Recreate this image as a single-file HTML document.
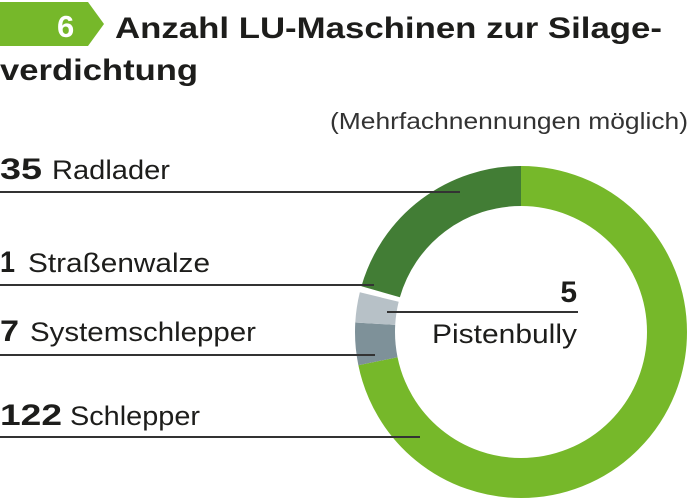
<!DOCTYPE html>
<html><head><meta charset="utf-8"><style>
html,body{margin:0;padding:0;background:#fff;}
svg{display:block;font-family:"Liberation Sans",sans-serif;}
</style></head><body>
<svg width="693" height="504" viewBox="0 0 693 504">
<polygon points="0,2 88,2 104,24 88,46 0,46" fill="#76b82a"/>
<text x="57" y="37" font-size="31" font-weight="bold" fill="#fff">6</text>
<text x="115" y="38" font-size="30" font-weight="bold" fill="#1d1d1b" textLength="547" lengthAdjust="spacingAndGlyphs">Anzahl LU-Maschinen zur Silage-</text>
<text x="0" y="80" font-size="30" font-weight="bold" fill="#1d1d1b" textLength="198" lengthAdjust="spacingAndGlyphs">verdichtung</text>
<text x="330" y="129" font-size="23" fill="#333" textLength="358" lengthAdjust="spacingAndGlyphs">(Mehrfachnennungen möglich)</text>
<g transform="rotate(-90 521 332)" fill="none" stroke-width="40">
<circle cx="521" cy="332" r="146" stroke="#76b82a" stroke-dasharray="658.3 1000"/>
<circle cx="521" cy="332" r="146" stroke="#7e9199" stroke-dasharray="0 658.3 37.8 1000"/>
<circle cx="521" cy="332" r="146" stroke="#b7c1c7" stroke-dasharray="0 696.1 27 1000"/>
<circle cx="521" cy="332" r="146" stroke="#427d35" stroke-dasharray="0 728.5 188.9 1000"/>
</g>
<g stroke="#333" stroke-width="2">
<line x1="0" y1="192" x2="460" y2="192"/>
<line x1="0" y1="285" x2="374" y2="285"/>
<line x1="0" y1="355" x2="375" y2="355"/>
<line x1="0" y1="437" x2="420" y2="437"/>
<line x1="387" y1="312" x2="578" y2="312"/>
</g>
<g font-size="27" fill="#1d1d1b">
<g font-weight="bold" font-size="30">
<text x="0" y="179" textLength="42" lengthAdjust="spacingAndGlyphs">35</text>
<text x="0" y="272" textLength="15" lengthAdjust="spacingAndGlyphs">1</text>
<text x="0" y="341" textLength="19" lengthAdjust="spacingAndGlyphs">7</text>
<text x="0" y="425" textLength="62" lengthAdjust="spacingAndGlyphs">122</text>
<text x="577" y="302" text-anchor="end">5</text>
</g>
<text x="52" y="179" textLength="118" lengthAdjust="spacingAndGlyphs">Radlader</text>
<text x="28" y="272" textLength="182" lengthAdjust="spacingAndGlyphs">Straßenwalze</text>
<text x="30" y="341" textLength="226" lengthAdjust="spacingAndGlyphs">Systemschlepper</text>
<text x="70" y="425" textLength="130" lengthAdjust="spacingAndGlyphs">Schlepper</text>
<text x="432" y="343" textLength="145" lengthAdjust="spacingAndGlyphs">Pistenbully</text>
</g>
</svg>
</body></html>
